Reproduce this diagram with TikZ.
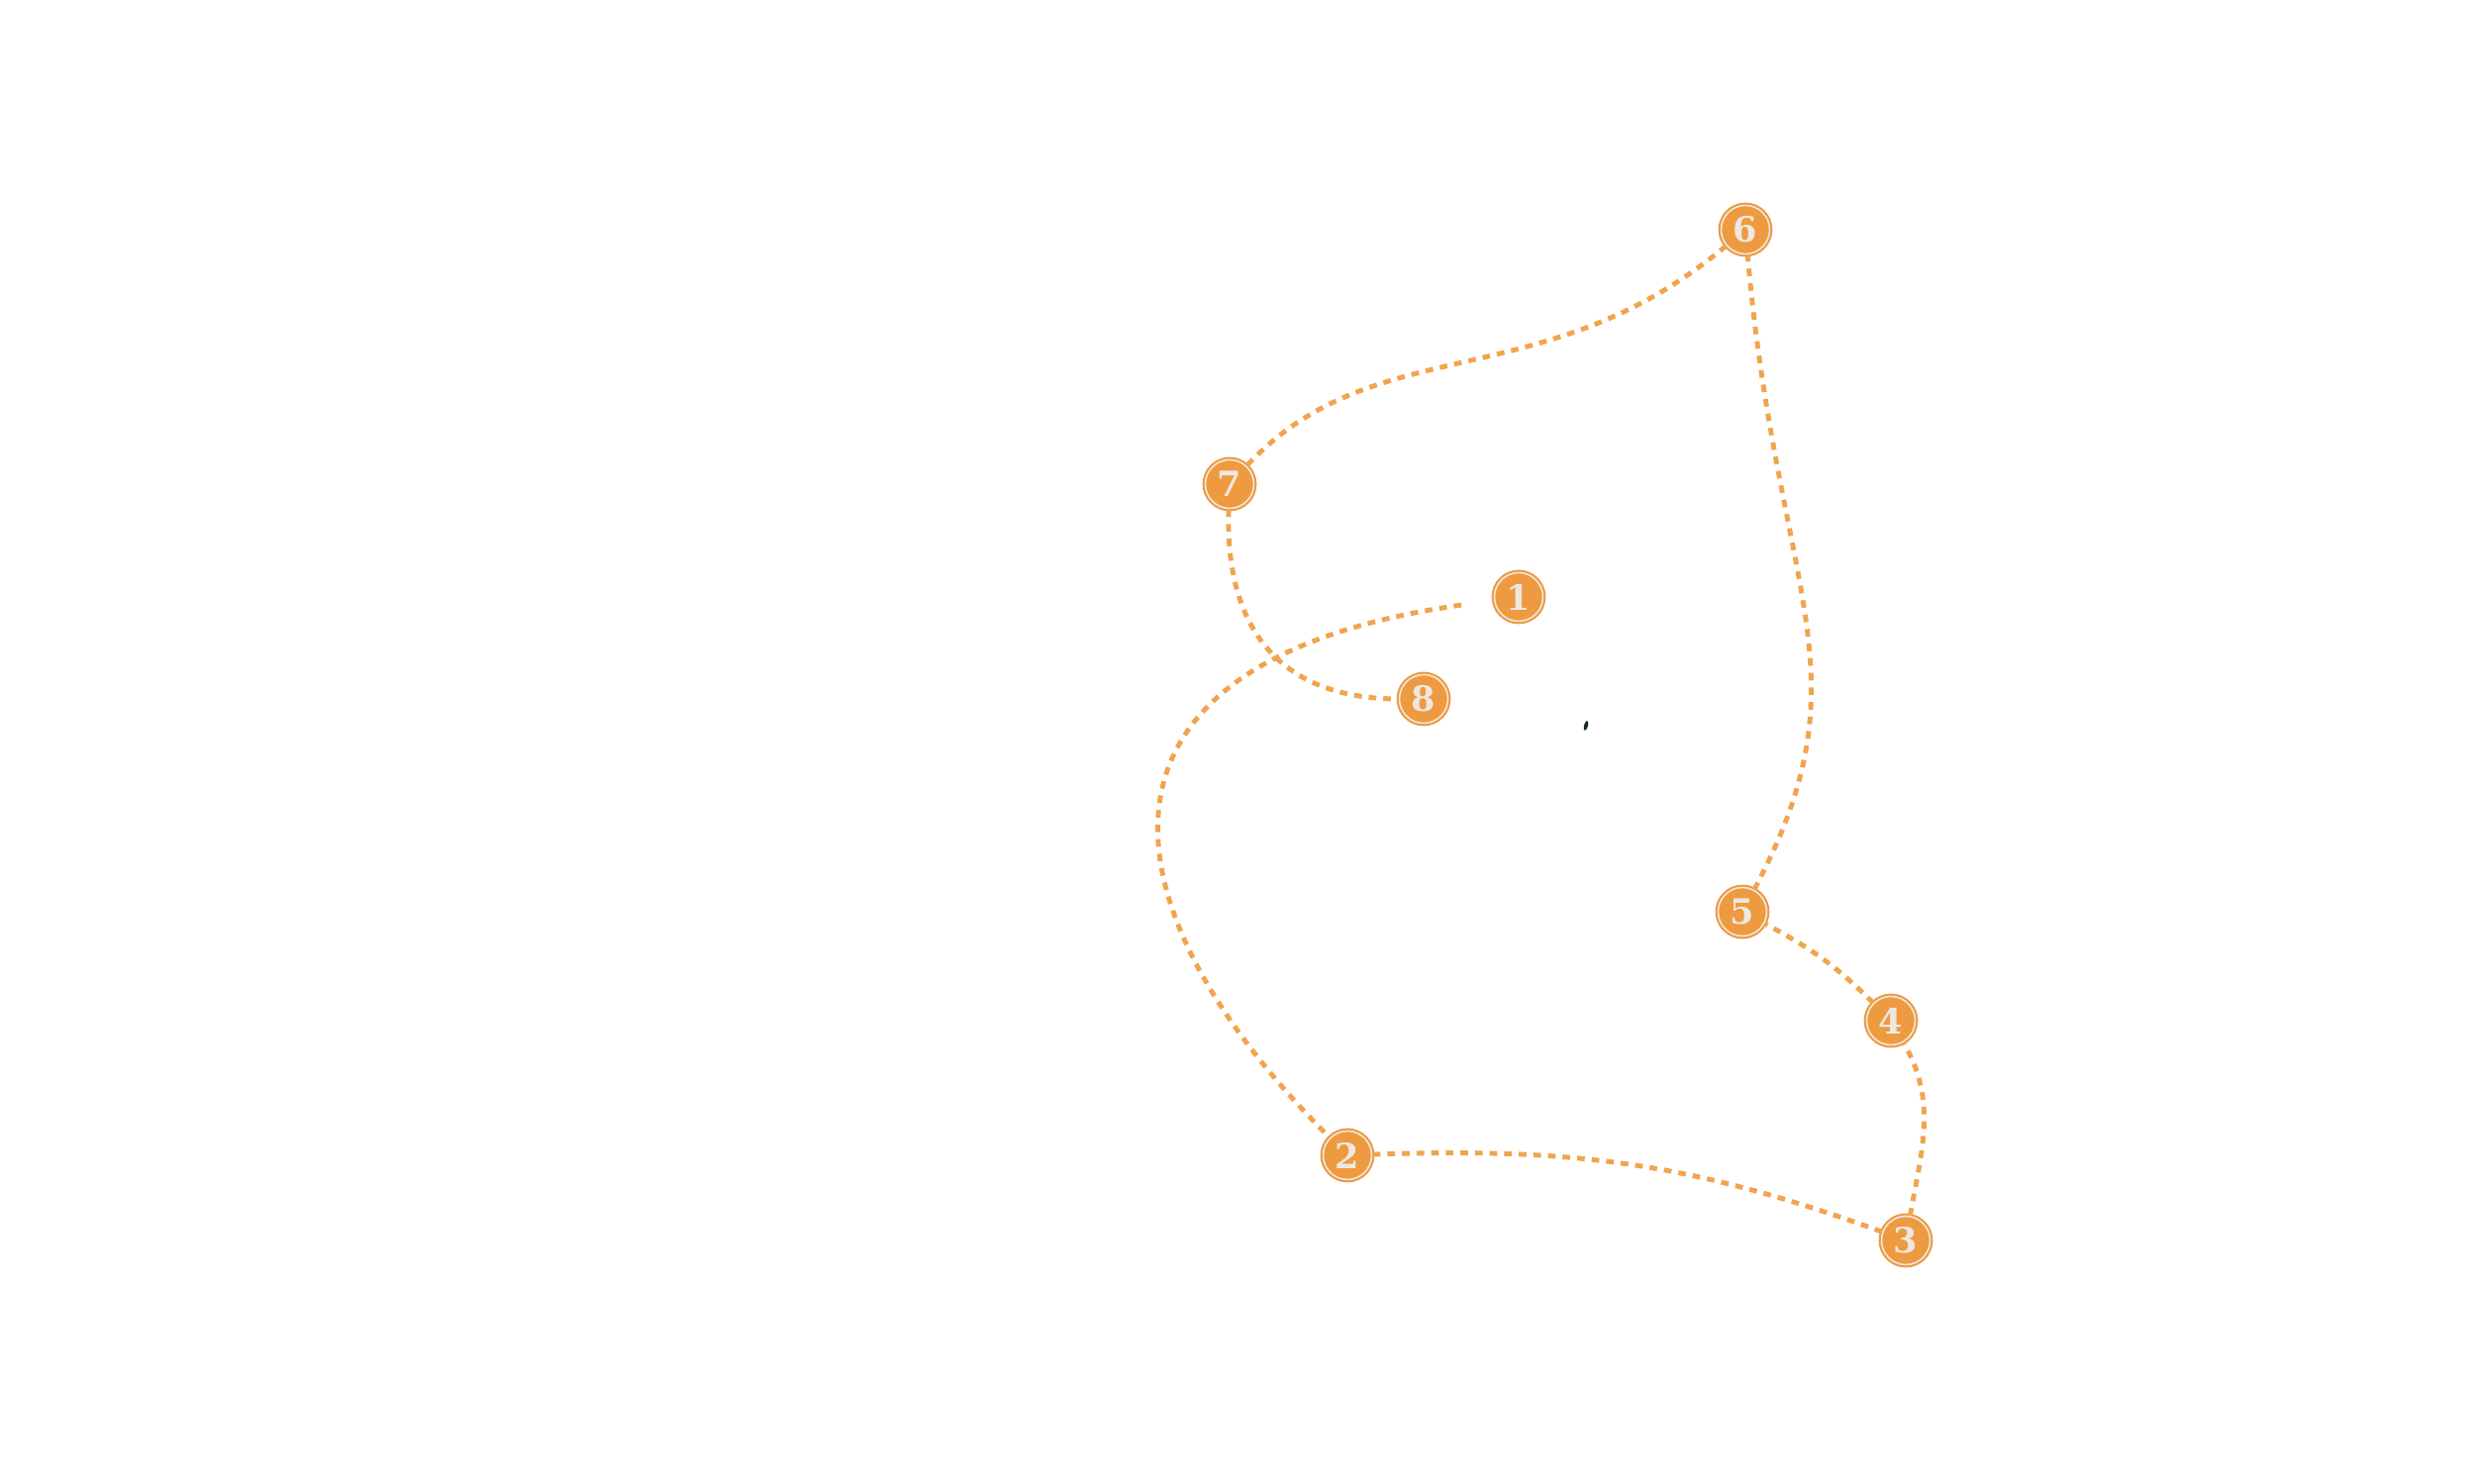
\documentclass[tikz,border=0pt]{standalone}
\usepackage{fontspec}
\usepackage{tikz}
\usetikzlibrary{positioning}
\usepackage{xcolor}
\newfontfamily\pinfont{DejaVu Serif}
\definecolor{pinorange}{RGB}{238,154,64}
\definecolor{trailorange}{RGB}{241,164,78}
\definecolor{pincream}{RGB}{237,232,224}
\definecolor{markdark}{RGB}{20,40,40}

\begin{document}
\begin{tikzpicture}[
  waypoint/.style={circle, fill=pinorange, draw=pinorange, double=pincream, double distance=0.45pt, line width=0.6pt, minimum size=0.49cm, inner sep=0pt, text=pincream, font=\pinfont\fontsize{10}{10}\selectfont\bfseries},
  trail/.style={draw=trailorange, line width=1.4pt, dash pattern=on 2.2pt off 2pt}
]
  \useasboundingbox (0,0) rectangle (25,14.99);
  % route lines
  \node[waypoint] (P1) at (15.34,8.96) {1};
  \node[waypoint] (P2) at (13.61,3.32) {2};
  \node[waypoint] (P3) at (19.25,2.46) {3};
  \node[waypoint] (P4) at (19.10,4.68) {4};
  \node[waypoint] (P5) at (17.60,5.78) {5};
  \node[waypoint] (P6) at (17.63,12.67) {6};
  \node[waypoint] (P7) at (12.42,10.10) {7};
  \node[waypoint] (P8) at (14.38,7.93) {8};
  \draw[trail, shorten <=0.33cm] (P1) to[out=188, in=135, out distance=4.4cm, in distance=3.3cm] (P2);
  \draw[trail] (P2) to[out=2, in=160] (P3);
  \draw[trail] (P3) to[out=80, in=-60] (P4);
  \draw[trail] (P4) to[out=135, in=-28] (P5);
  \draw[trail] (P5) to[out=62, in=-85, out distance=2.5cm, in distance=3.5cm] (P6);
  \draw[trail] (P6) to[out=220, in=47, out distance=2.4cm, in distance=1.9cm] (P7);
  \draw[trail] (P7) to[out=268, in=180, out distance=1.2cm, in distance=1.2cm] (P8);
  \fill[markdark, rotate around={-15:(16.02,7.66)}] (16.02,7.66) ellipse (0.02 and 0.05);
\end{tikzpicture}
\end{document}
